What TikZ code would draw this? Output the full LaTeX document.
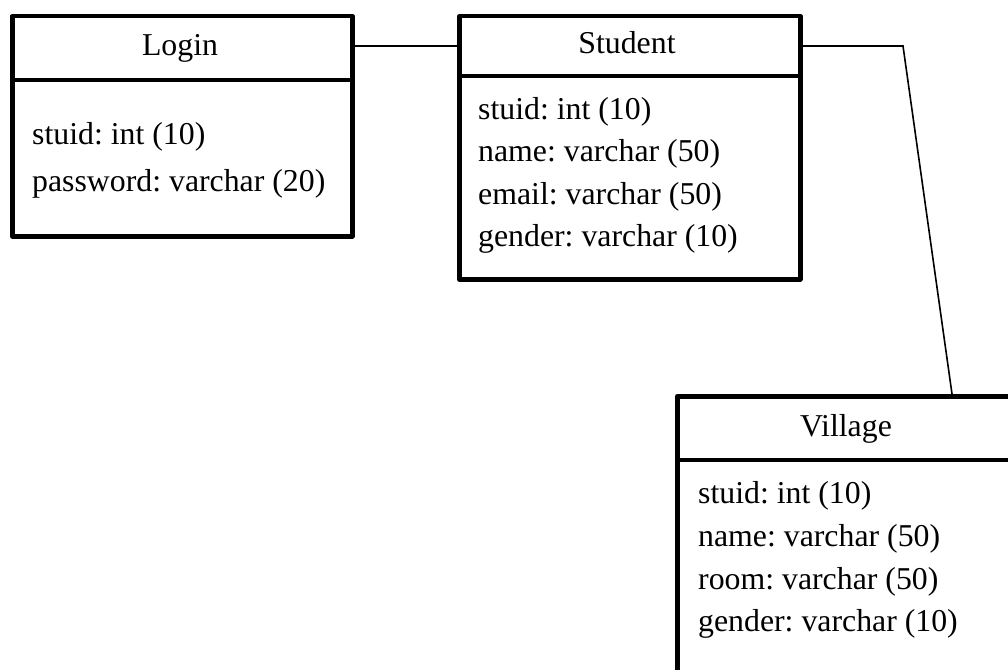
\documentclass[tikz,border=0pt]{standalone}
\usepackage{fontspec}
\setmainfont{Liberation Serif}
\begin{document}
\frenchspacing
\begin{tikzpicture}[x=1pt,y=-1pt,
  table/.style={draw, line width=4.5pt, line join=round, inner sep=0pt, anchor=north west},
  sep/.style={line width=4.5pt},
  title/.style={font=\fontsize{31.8}{38}\selectfont, anchor=base, inner sep=0pt},
  field/.style={font=\fontsize{31.8}{38}\selectfont, anchor=base west, inner sep=0pt},
  link/.style={line width=1.6pt}]
\useasboundingbox (0,0) rectangle (1008,669);
\clip (0,0) rectangle (1008,669);

% Login table
\node[table, minimum width=340pt, minimum height=220pt] (login) at (10,14) {};
\draw[sep] ([yshift=-66pt]login.north west) -- ([yshift=-66pt]login.north east);
\node[title] (logintitle) at (180,56) {Login};
\node[field] (loginf1) at (32,144) {stuid: int (10)};
\node[field] (loginf2) at (32,191) {password: varchar (20)};

% Student table
\node[table, minimum width=341pt, minimum height=263pt] (student) at (457,14) {};
\draw[sep] ([yshift=-62pt]student.north west) -- ([yshift=-62pt]student.north east);
\node[title] (studenttitle) at (627,53) {Student};
\node[field] (studentf1) at (478,119) {stuid: int (10)};
\node[field] (studentf2) at (478,161) {name: varchar (50)};
\node[field] (studentf3) at (478,204) {email: varchar (50)};
\node[field] (studentf4) at (478,246) {gender: varchar (10)};

% Village table
\node[table, minimum width=342pt, minimum height=276.5pt] (village) at (675,394) {};
\draw[sep] ([yshift=-66pt]village.north west) -- ([yshift=-66pt]village.north east);
\node[title] (villagetitle) at (846,436) {Village};
\node[field] (villagef1) at (698,503) {stuid: int (10)};
\node[field] (villagef2) at (698,546) {name: varchar (50)};
\node[field] (villagef3) at (698,589) {room: varchar (50)};
\node[field] (villagef4) at (698,631) {gender: varchar (10)};

% Relationships
\coordinate (bend) at (903,46);
\draw[link] ([yshift=-32pt]login.north east) -- ([yshift=-32pt]student.north west);
\draw[link] ([yshift=-32pt]student.north east) -- (bend) -- ([xshift=277pt]village.north west);
\end{tikzpicture}
\end{document}
